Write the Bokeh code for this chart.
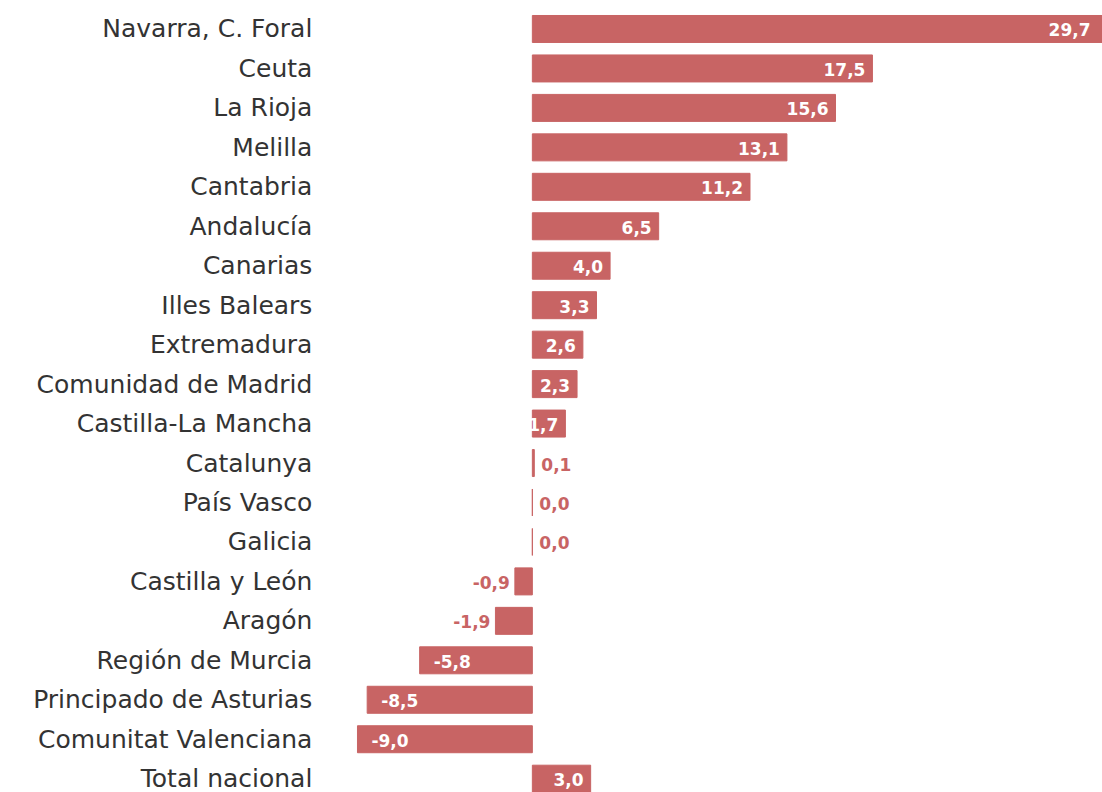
from bokeh.plotting import figure
from bokeh.models import ColumnDataSource, Range1d
from bokeh.embed import file_html
from bokeh.resources import INLINE
from bokeh.core.properties import value

categories = [
    "Navarra, C. Foral", "Ceuta", "La Rioja", "Melilla", "Cantabria",
    "Andalucía", "Canarias", "Illes Balears", "Extremadura",
    "Comunidad de Madrid", "Castilla-La Mancha", "Catalunya", "País Vasco",
    "Galicia", "Castilla y León", "Aragón", "Región de Murcia",
    "Principado de Asturias", "Comunitat Valenciana", "Total nacional",
]
values = [29.7, 17.5, 15.6, 13.1, 11.2, 6.5, 4.0, 3.3, 2.6, 2.3, 1.7,
          0.1, 0.0, 0.0, -0.9, -1.9, -5.8, -8.5, -9.0, 3.0]

BAR = "#C86464"
X_START, X_END = -27.37, 29.34
LABEL_X = -11.32

ypos = [-i for i in range(len(categories))]
val_text = [f"{v:.1f}".replace(".", ",") for v in values]

inside = [(v >= 1) or (v <= -5) for v in values]
lx, loff, lalign, lcol = [], [], [], []
for v, ins in zip(values, inside):
    if v >= 0 and ins:
        clipped = v > X_END
        lx.append(min(v, X_END)); loff.append(-12 if clipped else -7)
        lalign.append("right"); lcol.append("white")
    elif v >= 0:
        lx.append(v); loff.append(7); lalign.append("left"); lcol.append(BAR)
    elif ins:
        lx.append(v); loff.append(14); lalign.append("left"); lcol.append("white")
    else:
        lx.append(v); loff.append(-5); lalign.append("right"); lcol.append(BAR)

src = ColumnDataSource(dict(y=ypos, v=values, cat=categories, t=val_text,
                            lx=lx, loff=loff, lalign=lalign, lcol=lcol,
                            catx=[LABEL_X] * len(categories)))

p = figure(width=1102, height=792, output_backend="svg", toolbar_location=None,
           x_range=Range1d(X_START, X_END), y_range=Range1d(-19.35, 0.722),
           min_border=0, outline_line_color=None)
p.xaxis.visible = False
p.yaxis.visible = False
p.xgrid.visible = False
p.ygrid.visible = False
p.background_fill_color = "white"
p.border_fill_color = "white"

p.hbar(y="y", left=0, right="v", height=0.684, source=src,
       fill_color=BAR, line_color=BAR, line_width=1)

p.text(x="catx", y="y", text="cat", source=src, text_align="right",
       text_baseline="middle", text_font=value("DejaVu Sans"),
       text_font_size="25px", text_color="#333333")

p.text(x="lx", y="y", text="t", x_offset="loff", text_align="lalign",
       source=src, text_baseline="middle", text_font=value("DejaVu Sans"),
       text_font_style="bold", text_font_size="17px", text_color="lcol",
       y_offset=1)

open("out.html", "w").write(file_html(p, INLINE))
